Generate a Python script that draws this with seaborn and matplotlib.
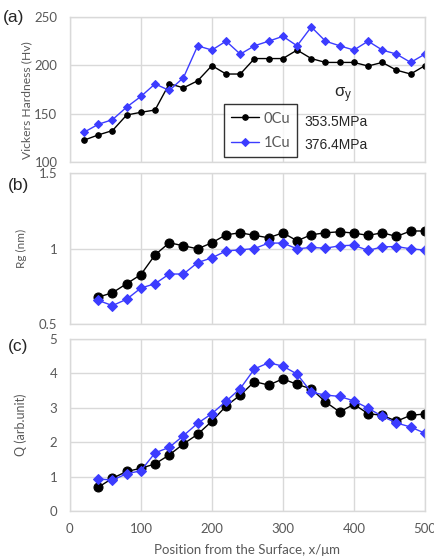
import numpy as np
import pandas as pd
import matplotlib
matplotlib.use("Agg")
import matplotlib.pyplot as plt
from matplotlib.ticker import MultipleLocator, FuncFormatter
import seaborn as sns

# Depth positions (µm)
pos_hv = [20, 40, 60, 80, 100, 120, 140, 160, 180, 200, 220, 240, 260,
          280, 300, 320, 340, 360, 380, 400, 420, 440, 460, 480, 500]
pos_saxs = [40, 60, 80, 100, 120, 140, 160, 180, 200, 220, 240, 260,
            280, 300, 320, 340, 360, 380, 400, 420, 440, 460, 480, 500]

# (a) Vickers hardness
hv_0cu = [122.6, 128, 132.5, 148.6, 151.4, 153.8, 181, 176.7, 184, 199.7,
          191, 191, 207, 207, 207, 215.8, 207, 203, 203, 203, 199.3, 203,
          195, 191, 199.7]
hv_1cu = [130.8, 139, 143.8, 156.8, 167.8, 180.8, 174, 187.3, 220.2, 215.8,
          225, 211.6, 220.2, 225, 230, 220.2, 239.7, 225, 220.2, 215.8, 225,
          215.8, 211.6, 203, 211.6]

# (b) Radius of gyration
rg_0cu = [0.678, 0.707, 0.767, 0.827, 0.958, 1.038, 1.018, 0.998, 1.038,
          1.091, 1.104, 1.087, 1.071, 1.104, 1.051, 1.091, 1.104, 1.111,
          1.102, 1.087, 1.104, 1.080, 1.116, 1.116]
rg_1cu = [0.656, 0.622, 0.664, 0.738, 0.767, 0.831, 0.831, 0.907, 0.938,
          0.984, 0.991, 1.000, 1.036, 1.036, 0.998, 1.007, 1.002, 1.018,
          1.022, 0.987, 1.011, 1.013, 0.998, 0.989]

# (c) Integrated intensity Q
q_0cu = [0.69, 0.95, 1.15, 1.24, 1.37, 1.63, 1.95, 2.23, 2.61, 3.05, 3.37,
         3.76, 3.66, 3.84, 3.68, 3.55, 3.17, 2.88, 3.10, 2.83, 2.78, 2.61,
         2.78, 2.82]
q_1cu = [0.93, 0.90, 1.08, 1.17, 1.69, 1.85, 2.19, 2.55, 2.83, 3.19, 3.56,
         4.13, 4.31, 4.21, 3.98, 3.45, 3.37, 3.33, 3.20, 2.99, 2.75, 2.56,
         2.44, 2.26]

labels = ["0Cu", "1Cu"]
strengths = ["353.5MPa", "376.4MPa"]

BLACK = "#000000"
BLUE = "#3c3cff"
GRID = "#d9d9d9"
TXT = "#595959"
AXFONT = ["Lato", "DejaVu Sans"]
DARKFONT = ["Liberation Sans", "DejaVu Sans"]

sns.set_style("white")
plt.rcParams["font.family"] = AXFONT

fig = plt.figure(figsize=(4.34, 5.59), dpi=100)
L, W = 0.161, 0.818
ax_a = fig.add_axes([L, 0.7102, W, 0.2594])
ax_b = fig.add_axes([L, 0.4204, W, 0.2701])
ax_c = fig.add_axes([L, 0.0859, W, 0.3077])


def draw(ax, x, y0, y1, ms0, ms1):
    sns.lineplot(x=x, y=y0, ax=ax, color=BLACK, lw=1.0, marker="o",
                 markersize=ms0, markeredgecolor=BLACK, label=labels[0],
                 legend=False)
    sns.lineplot(x=x, y=y1, ax=ax, color=BLUE, lw=1.0, marker="D",
                 markersize=ms1, markeredgecolor=BLUE, label=labels[1],
                 legend=False)


def style(ax, ylim, ymaj, ymin, xmin_step, ylabel, yfs):
    ax.set_xlim(0, 500)
    ax.set_ylim(*ylim)
    ax.xaxis.set_major_locator(MultipleLocator(100))
    ax.xaxis.set_minor_locator(MultipleLocator(xmin_step))
    ax.yaxis.set_major_locator(MultipleLocator(ymaj))
    ax.yaxis.set_minor_locator(MultipleLocator(ymin))
    ax.grid(True, which="major", color=GRID, lw=1.0)
    ax.set_axisbelow(True)
    for s in ax.spines.values():
        s.set_color(GRID)
        s.set_linewidth(1.0)
    ax.tick_params(which="major", direction="in", length=0, labelsize=9.5,
                   labelcolor=TXT, pad=9)
    ax.tick_params(which="minor", direction="in", length=3, color="#bfbfbf",
                   width=0.8)
    ax.set_ylabel(ylabel, fontsize=yfs, color=TXT)
    ax.set_xlabel("")


draw(ax_a, pos_hv, hv_0cu, hv_1cu, 4, 4.5)
style(ax_a, (100, 250), 50, 10, 50, "Vickers Hardness (Hv)", 8.7)
ax_a.set_xticklabels([])
ax_a.yaxis.set_label_coords(-0.105, 0.43)

draw(ax_b, pos_saxs, rg_0cu, rg_1cu, 6.5, 5)
style(ax_b, (0.5, 1.5), 0.5, 0.1, 20, "Rg (nm)", 8.5)
ax_b.set_xticklabels([])
ax_b.yaxis.set_major_formatter(FuncFormatter(lambda v, p: f"{v:g}"))
ax_b.yaxis.set_label_coords(-0.12, 0.5)

draw(ax_c, pos_saxs, q_0cu, q_1cu, 6.5, 5)
style(ax_c, (0, 5), 1, 0.5, 20, "Q (arb.unit)", 9)
ax_c.set_xlabel("Position from the Surface, x/\u03bcm", fontsize=9.5,
                color=TXT, labelpad=6)
ax_c.yaxis.set_label_coords(-0.12, 0.5)

# panel tags
for y, tag in ((0.969, "(a)"), (0.669, "(b)"), (0.380, "(c)")):
    fig.text(0.006 if tag == "(a)" else 0.018, y, tag, fontsize=12.5,
             va="center", ha="left", family=DARKFONT)

# legend with yield strengths
h, l = ax_a.get_legend_handles_labels()
leg = ax_a.legend(h, l, loc="lower left", bbox_to_anchor=(0.434, 0.034),
                  frameon=True, fancybox=False, edgecolor=BLACK,
                  prop={"family": AXFONT, "size": 10.5},
                  handlelength=1.9, handletextpad=0.3,
                  borderpad=0.5, labelspacing=0.7, labelcolor=TXT,
                  borderaxespad=0)
leg.get_frame().set_linewidth(1.0)
ax_a.text(0.745, 0.46, "$\\mathregular{\u03c3_y}$",
          transform=ax_a.transAxes, fontsize=12, ha="left", va="center",
          family=DARKFONT)
ax_a.text(0.662, 0.275, strengths[0], transform=ax_a.transAxes,
          fontsize=10, ha="left", va="center", family=DARKFONT)
ax_a.text(0.662, 0.115, strengths[1], transform=ax_a.transAxes,
          fontsize=10, ha="left", va="center", family=DARKFONT)

fig.savefig("out.png", dpi=100)
